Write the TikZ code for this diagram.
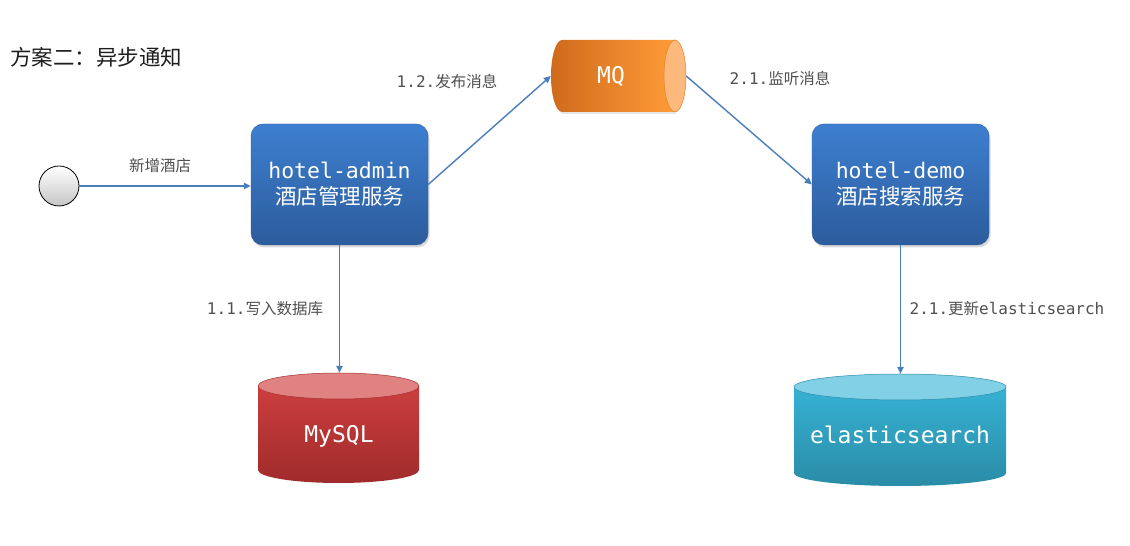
\documentclass[tikz,border=0pt]{standalone}
\usepackage{fontspec}
\setmonofont{DejaVu Sans Mono}
\newfontfamily\cjk{Noto Sans CJK SC}
\usetikzlibrary{arrows.meta,shadows}
\definecolor{boxtop}{HTML}{3D7FD0}
\definecolor{boxbot}{HTML}{2C5C9C}
\definecolor{linkblue}{HTML}{4A7EBB}
\definecolor{lblgray}{HTML}{505050}
\definecolor{titlecol}{HTML}{1E1E1E}
\definecolor{sqlcap}{HTML}{E08282}
\definecolor{sqltop}{HTML}{CC3E3E}
\definecolor{sqlbot}{HTML}{A02B2B}
\definecolor{escap}{HTML}{82D0E6}
\definecolor{estop}{HTML}{36B2D4}
\definecolor{esbot}{HTML}{2A8CA6}
\definecolor{mqleft}{HTML}{D06A1C}
\definecolor{mqright}{HTML}{FF9C38}
\definecolor{mqcap}{HTML}{FDB87C}
\begin{document}
\begin{tikzpicture}[x=1pt,y=1pt,
  conn/.style={draw=linkblue, line width=1.4pt, -{Triangle[length=7pt,width=6.5pt]}},
  lbl/.style={text=lblgray, inner sep=0pt, font=\cjk\fontsize{15.5}{18}\selectfont},
  svc/.style={rounded corners=12pt, top color=boxtop, bottom color=boxbot, draw=boxbot,
    line width=0.4pt, minimum width=177pt, minimum height=121pt, text=white,
    align=center, inner sep=0pt, font=\fontsize{21.5}{26}\selectfont,
    drop shadow={shadow xshift=1.5pt, shadow yshift=-2.5pt, opacity=0.3}},
  dbtext/.style={text=white, inner sep=0pt, font=\ttfamily\fontsize{23}{26}\selectfont},
  area/.style={inner sep=0pt, draw=none}
  ]
\useasboundingbox (0,0) rectangle (1130,546);
\fill[white] (0,0) rectangle (1130,546);

% title
\node[anchor=west, inner sep=0pt, text=titlecol, font=\cjk\fontsize{21.5}{24}\selectfont] (title) at (10,489) {方案二：异步通知};

% start circle
\node[circle, minimum size=40pt, inner sep=0pt, draw=black, line width=0.8pt, top color=white, bottom color=gray!45] (start) at (59,360) {};

% services
\node[svc] (admin) at (339.5,361.5) {{\ttfamily hotel-admin}\\{\cjk 酒店管理服务}};
\node[svc] (demo) at (900.5,361.5) {{\ttfamily hotel-demo}\\{\cjk 酒店搜索服务}};

% MQ cylinder (horizontal)
\fill[gray!40, opacity=0.5] (677,432) -- (564,432) arc[start angle=270,end angle=90,x radius=11,y radius=35] -- cycle;
\shade[left color=mqleft, right color=mqright] (675,506) -- (562,506) arc[start angle=90,end angle=270,x radius=11,y radius=36] -- (675,434) -- cycle;
\filldraw[fill=mqcap, draw=mqright!85!black, line width=0.5pt] (675,470) ellipse[x radius=11, y radius=36];
\node[area, minimum width=135pt, minimum height=72pt] (mq) at (618.5,470) {};
\node[dbtext] (mqtxt) at (611,470) {MQ};

% MySQL cylinder
\shade[top color=sqltop, bottom color=sqlbot] (258,160) -- (258,76) arc[start angle=180,end angle=360,x radius=80.5,y radius=13] -- (419,160) -- cycle;
\filldraw[fill=sqlcap, draw=sqltop!80!black, line width=0.5pt] (338.5,160) ellipse[x radius=80.5, y radius=13];
\node[area, minimum width=161pt, minimum height=110pt] (mysql) at (338.5,118) {};
\node[dbtext] (mysqltxt) at (339,110) {MySQL};

% elasticsearch cylinder
\shade[top color=estop, bottom color=esbot] (794,159) -- (794,73) arc[start angle=180,end angle=360,x radius=106,y radius=13] -- (1006,159) -- cycle;
\filldraw[fill=escap, draw=estop!80!black, line width=0.5pt] (900,159) ellipse[x radius=106, y radius=13];
\node[area, minimum width=212pt, minimum height=112pt] (es) at (900,116) {};
\node[dbtext] (estxt) at (900,111) {elasticsearch};

% connectors
\draw[conn] (start.east) -- (start.east -| admin.west);
\draw[conn] (admin.east) -- (mq.west);
\draw[conn] (mq.east) -- (demo.west);
\draw[conn] (admin.south) -- (admin.south |- mysql.north);
\draw[conn] (demo.south) -- (demo.south |- es.north);

% labels
\node[lbl] (l0) at (160,380) {新增酒店};
\node[lbl] (l12) at (447,464) {{\ttfamily\fontsize{16}{18}\selectfont 1.2.}发布消息};
\node[lbl] (l21) at (780,467) {{\ttfamily\fontsize{16}{18}\selectfont 2.1.}监听消息};
\node[lbl] (l11) at (265,237) {{\ttfamily\fontsize{16}{18}\selectfont 1.1.}写入数据库};
\node[lbl] (l22) at (1007,237) {{\ttfamily\fontsize{16}{18}\selectfont 2.1.}更新{\ttfamily\fontsize{16}{18}\selectfont elasticsearch}};
\end{tikzpicture}
\end{document}
